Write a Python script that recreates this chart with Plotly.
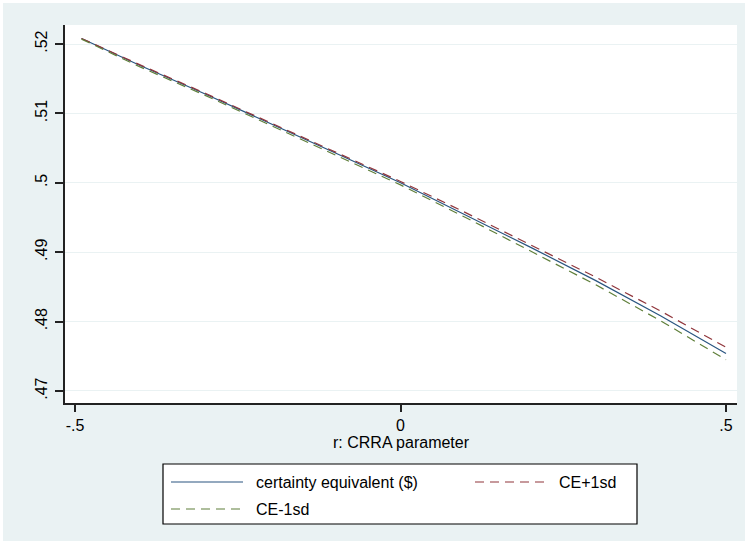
import plotly.graph_objects as go

# ---- data ----
r_vals = [-0.49, -0.4, -0.3, -0.2, -0.1, 0.0, 0.1, 0.2, 0.3, 0.4, 0.5]
ce = [0.5208, 0.5169, 0.5128, 0.5086, 0.5043, 0.5000, 0.4954, 0.4907, 0.4859, 0.4808, 0.4754]
ce_plus = [0.5208, 0.5170, 0.5129, 0.5087, 0.5045, 0.5002, 0.4957, 0.4911, 0.4864, 0.4815, 0.4763]
ce_minus = [0.5207, 0.5167, 0.5126, 0.5083, 0.5040, 0.4997, 0.4950, 0.4902, 0.4853, 0.4801, 0.4745]

series_names = ["certainty equivalent ($)", "CE+1sd", "CE-1sd"]
x_ticks = [-0.5, 0, 0.5]
x_ticklabels = ["-.5", "0", ".5"]
y_ticks = [0.47, 0.48, 0.49, 0.50, 0.51, 0.52]
y_ticklabels = [".47", ".48", ".49", ".5", ".51", ".52"]

# ---- style ----
W, H = 745, 548
L, R, T, B = 65, 737, 25, 403  # plot area in pixels
BG = "#EAF2F3"
C_BLUE = "#2a5580"
C_RED = "#90353b"
C_GREEN = "#5f7f3a"
FONT = "Liberation Sans, Arial, sans-serif"
FS = 16
DASH = "9px,6px"


def px(X):
    return (X - L) / (R - L)


def py(Y):
    return (B - Y) / (B - T)


fig = go.Figure()
fig.add_trace(go.Scatter(x=r_vals, y=ce, mode="lines", name=series_names[0],
                         line=dict(color=C_BLUE, width=1.2), showlegend=False))
fig.add_trace(go.Scatter(x=r_vals, y=ce_plus, mode="lines", name=series_names[1],
                         line=dict(color=C_RED, width=1.2, dash=DASH), showlegend=False))
fig.add_trace(go.Scatter(x=r_vals, y=ce_minus, mode="lines", name=series_names[2],
                         line=dict(color=C_GREEN, width=1.2, dash=DASH), showlegend=False))

shapes = []
# white outer margins
shapes.append(dict(type="rect", xref="paper", yref="paper", x0=px(0), x1=px(3), y0=py(0), y1=py(H),
                   fillcolor="white", line=dict(width=0), layer="below"))
shapes.append(dict(type="rect", xref="paper", yref="paper", x0=px(0), x1=px(W), y0=py(0), y1=py(3),
                   fillcolor="white", line=dict(width=0), layer="below"))
shapes.append(dict(type="rect", xref="paper", yref="paper", x0=px(0), x1=px(W), y0=py(541), y1=py(H),
                   fillcolor="white", line=dict(width=0), layer="below"))
# legend box
shapes.append(dict(type="rect", xref="paper", yref="paper", x0=px(163), x1=px(637), y0=py(464), y1=py(524),
                   fillcolor="white", line=dict(color="black", width=1.2), layer="above"))
# legend samples
row1, row2 = 482, 509
shapes.append(dict(type="line", xref="paper", yref="paper", x0=px(171), x1=px(243), y0=py(row1), y1=py(row1),
                   line=dict(color=C_BLUE, width=1.2)))
shapes.append(dict(type="line", xref="paper", yref="paper", x0=px(475), x1=px(546), y0=py(row1), y1=py(row1),
                   line=dict(color=C_RED, width=1.2, dash=DASH)))
shapes.append(dict(type="line", xref="paper", yref="paper", x0=px(171), x1=px(243), y0=py(row2), y1=py(row2),
                   line=dict(color=C_GREEN, width=1.2, dash=DASH)))

annotations = [
    dict(text=series_names[0], x=px(254), y=py(row1), xref="paper", yref="paper",
         xanchor="left", yanchor="middle", showarrow=False, font=dict(family=FONT, size=FS, color="black")),
    dict(text=series_names[1], x=px(557), y=py(row1), xref="paper", yref="paper",
         xanchor="left", yanchor="middle", showarrow=False, font=dict(family=FONT, size=FS, color="black")),
    dict(text=series_names[2], x=px(254), y=py(row2), xref="paper", yref="paper",
         xanchor="left", yanchor="middle", showarrow=False, font=dict(family=FONT, size=FS, color="black")),
    dict(text="r: CRRA parameter", x=px(401), y=py(432), xref="paper", yref="paper",
         xanchor="center", yanchor="top", showarrow=False, font=dict(family=FONT, size=FS, color="black")),
]

fig.update_layout(
    width=W, height=H,
    margin=dict(l=L, r=W - R, t=T, b=H - B, pad=0),
    paper_bgcolor=BG, plot_bgcolor="white",
    font=dict(family=FONT, size=FS, color="black"),
    shapes=shapes, annotations=annotations,
    showlegend=False,
    xaxis=dict(range=[-0.5154, 0.5169], tickvals=x_ticks, ticktext=x_ticklabels,
               showgrid=False, zeroline=False, showline=True, linecolor="#222", linewidth=1.5,
               ticks="outside", ticklen=7, tickwidth=1.5, tickcolor="#222",
               tickfont=dict(size=FS)),
    yaxis=dict(range=[0.46827, 0.52274], tickvals=y_ticks, ticktext=y_ticklabels,
               showgrid=True, gridcolor=BG, gridwidth=1.2, zeroline=False,
               showline=True, linecolor="#222", linewidth=1.5,
               ticks="outside", ticklen=8, tickwidth=1.5, tickcolor="#222",
               tickangle=-90, tickfont=dict(size=FS), ticklabelstandoff=2),
)

fig.write_html("out.html", config={"displayModeBar": False},
               post_script="document.body.style.margin='0';document.body.style.overflow='hidden';")
